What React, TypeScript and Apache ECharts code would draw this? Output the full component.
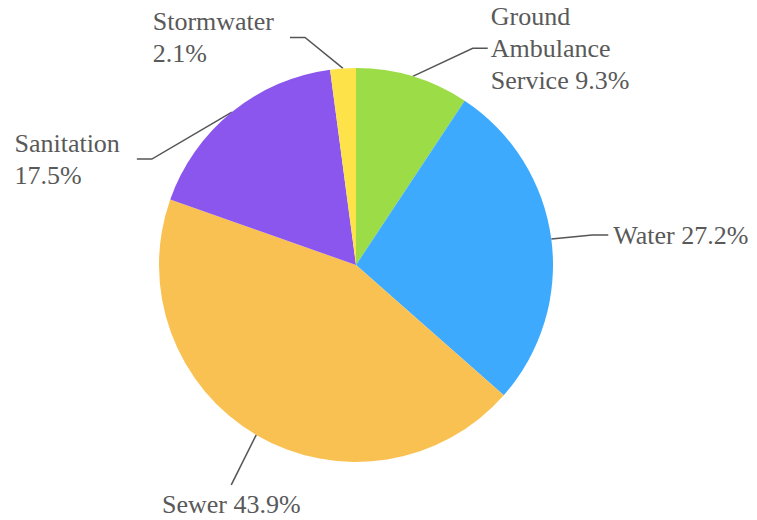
import React, { useEffect, useRef } from "react";
import * as echarts from "echarts";

const categories = ["Ground Ambulance Service", "Water", "Sewer", "Sanitation", "Stormwater"];
const shares = [9.3, 27.2, 43.9, 17.5, 2.1];
const colors = ["#9cdc47", "#3eaafd", "#f9c152", "#8b56ed", "#fde24a"];

const FONT = "Liberation Serif";

// label line geometry (style): offset of bend point from the slice anchor, horizontal tail, text gap
const labelGeom = [
  { dx: 60, dy: -28, tail: 15, gap: 3 },
  { dx: 41, dy: -4, tail: 16, gap: 5 },
  { dx: -25, dy: 50, tail: 0, gap: 0, below: true },
  { dx: -80, dy: 47, tail: -15, gap: -17 },
  { dx: -38, dy: -31, tail: -15, gap: -16 },
];

function wrap(text: string, limit: number): string {
  const words = text.split(" ");
  const lines: string[] = [];
  let cur = "";
  for (const w of words) {
    if (cur && (cur + " " + w).length > limit) {
      lines.push(cur);
      cur = w;
    } else {
      cur = cur ? cur + " " + w : w;
    }
  }
  if (cur) lines.push(cur);
  return lines.join("\n");
}

export default function App() {
  const ref = useRef<HTMLDivElement>(null);
  useEffect(() => {
    document.body.style.margin = "0";
    const chart = echarts.init(ref.current!, undefined, { renderer: "svg" });
    chart.setOption({
      animation: false,
      backgroundColor: "#ffffff",
      textStyle: { fontFamily: FONT },
      series: [
        {
          type: "pie",
          center: [356, 265],
          radius: 197,
          startAngle: 90,
          clockwise: true,
          avoidLabelOverlap: false,
          data: categories.map((name, i) => ({
            name,
            value: shares[i],
            itemStyle: { color: colors[i] },
          })),
          label: {
            show: true,
            position: "outside",
            formatter: (p: any) => wrap(`${p.name} ${p.value.toFixed(1)}%`, 12),
            fontFamily: FONT,
            fontSize: 26,
            lineHeight: 32,
            color: "#595959",
          },
          labelLine: {
            show: true,
            length: 30,
            length2: 15,
            lineStyle: { color: "#555555", width: 1.5 },
          },
          labelLayout: (params: any) => {
            const g = labelGeom[params.dataIndex];
            const pts = params.labelLinePoints;
            if (!pts || !g) return {};
            const a = pts[0];
            const bend = [a[0] + g.dx, a[1] + g.dy];
            const end = [bend[0] + g.tail, bend[1]];
            if (g.below) {
              return {
                x: end[0],
                y: end[1] + 4,
                align: "center",
                verticalAlign: "top",
                labelLinePoints: [a, bend, end],
              };
            }
            const w = params.labelRect.width;
            return {
              x: g.tail >= 0 ? end[0] + g.gap : end[0] + g.gap - w,
              y: end[1],
              align: "left",
              verticalAlign: "middle",
              labelLinePoints: [a, bend, end],
            };
          },
        },
      ],
    });
    return () => chart.dispose();
  }, []);
  return <div ref={ref} style={{ width: 757, height: 520 }} />;
}
